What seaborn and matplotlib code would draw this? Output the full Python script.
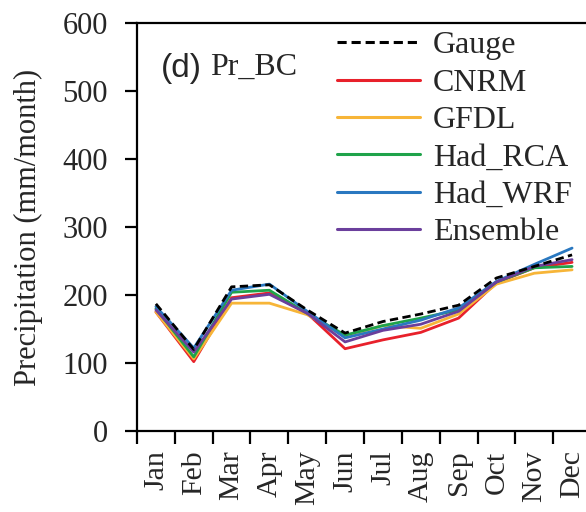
import matplotlib
matplotlib.use("Agg")
import matplotlib.pyplot as plt
import numpy as np
import pandas as pd
import seaborn as sns

# Monthly precipitation (mm/month), bias-corrected simulations vs gauge
months = ["Jan", "Feb", "Mar", "Apr", "May", "Jun",
          "Jul", "Aug", "Sep", "Oct", "Nov", "Dec"]
gauge    = [187, 120, 212, 215, 178, 144, 161, 172, 185, 225, 242, 259]
cnrm     = [175, 102, 196, 203, 173, 121, 134, 145, 166, 218, 240, 248]
gfdl     = [175, 106, 188, 188, 171, 139, 155, 151, 172, 216, 232, 237]
had_rca  = [180, 109, 204, 207, 173, 141, 155, 166, 178, 219, 240, 242]
had_wrf  = [183, 122, 207, 216, 176, 137, 150, 163, 181, 220, 245, 269]
ensemble = [178, 116, 194, 201, 173, 131, 148, 157, 176, 219, 242, 252]

series_names = ["Gauge", "CNRM", "GFDL", "Had_RCA", "Had_WRF", "Ensemble"]
series_vals = [gauge, cnrm, gfdl, had_rca, had_wrf, ensemble]
colors = {"Gauge": "#000000", "CNRM": "#e8212b", "GFDL": "#f7b538",
          "Had_RCA": "#1fa34a", "Had_WRF": "#2a78c0", "Ensemble": "#6b3f9c"}

df = pd.DataFrame({
    "month": np.tile(np.arange(len(months)), len(series_names)),
    "value": np.concatenate(series_vals),
    "series": np.repeat(series_names, len(months)),
})

sns.set_theme(style="white")
plt.rcParams["font.family"] = ["Liberation Serif", "DejaVu Serif"]
plt.rcParams["axes.linewidth"] = 1.6

fig = plt.figure(figsize=(5.86, 5.12), dpi=100)
ax = fig.add_axes([137 / 586, 81 / 512, 454 / 586, 408 / 512])

# models first, gauge drawn last so the dashed line sits on top
for name in series_names[1:] + series_names[:1]:
    sub = df[df["series"] == name]
    sns.lineplot(data=sub, x="month", y="value", ax=ax, color=colors[name],
                 lw=2.0, label=name, legend=False,
                 linestyle="--" if name == "Gauge" else "-")
for line in ax.get_lines():
    if line.get_label() == "Gauge":
        line.set_dashes((3.0, 1.6))

ax.set_xlim(-0.5, 11.5)
ax.set_ylim(0, 600)
ax.set_yticks(np.arange(0, 601, 100))
ax.set_xticks(np.arange(-0.5, 11.0, 1.0))
ax.set_xticklabels([])
ax.set_xticks(np.arange(12), minor=True)
ax.set_xticklabels(months, minor=True, rotation=90, fontsize=21.5)
ax.tick_params(axis="x", which="major", direction="out", length=9, width=1.6,
               color="black", bottom=True)
ax.tick_params(axis="x", which="minor", length=0, pad=14, bottom=True)
ax.tick_params(axis="y", direction="out", length=9, width=1.6,
               color="black", left=True, labelsize=22, pad=12)
ax.set_xlabel("")
ax.set_ylabel("Precipitation (mm/month)", fontsize=22, labelpad=14)
for s in ax.spines.values():
    s.set_color("black")
    s.set_linewidth(1.6)

handles, labels = ax.get_legend_handles_labels()
order = [labels.index(n) for n in series_names]
leg = fig.legend([handles[i] for i in order], [labels[i] for i in order],
                 loc="upper left", bbox_to_anchor=(337 / 586, 1 - 31 / 512),
                 frameon=False, fontsize=23, handlelength=2.6,
                 handletextpad=0.4, labelspacing=0.25, borderpad=0,
                 borderaxespad=0)
for h in leg.get_lines():
    h.set_linewidth(2.2)

fig.text(161 / 586, 1 - 68 / 512, "(d)", family="Liberation Sans",
         fontsize=24, va="center", ha="left")
fig.text(210 / 586, 1 - 75 / 512, "Pr_BC", fontsize=23, va="baseline",
         ha="left")

fig.savefig("out.png", dpi=100)
